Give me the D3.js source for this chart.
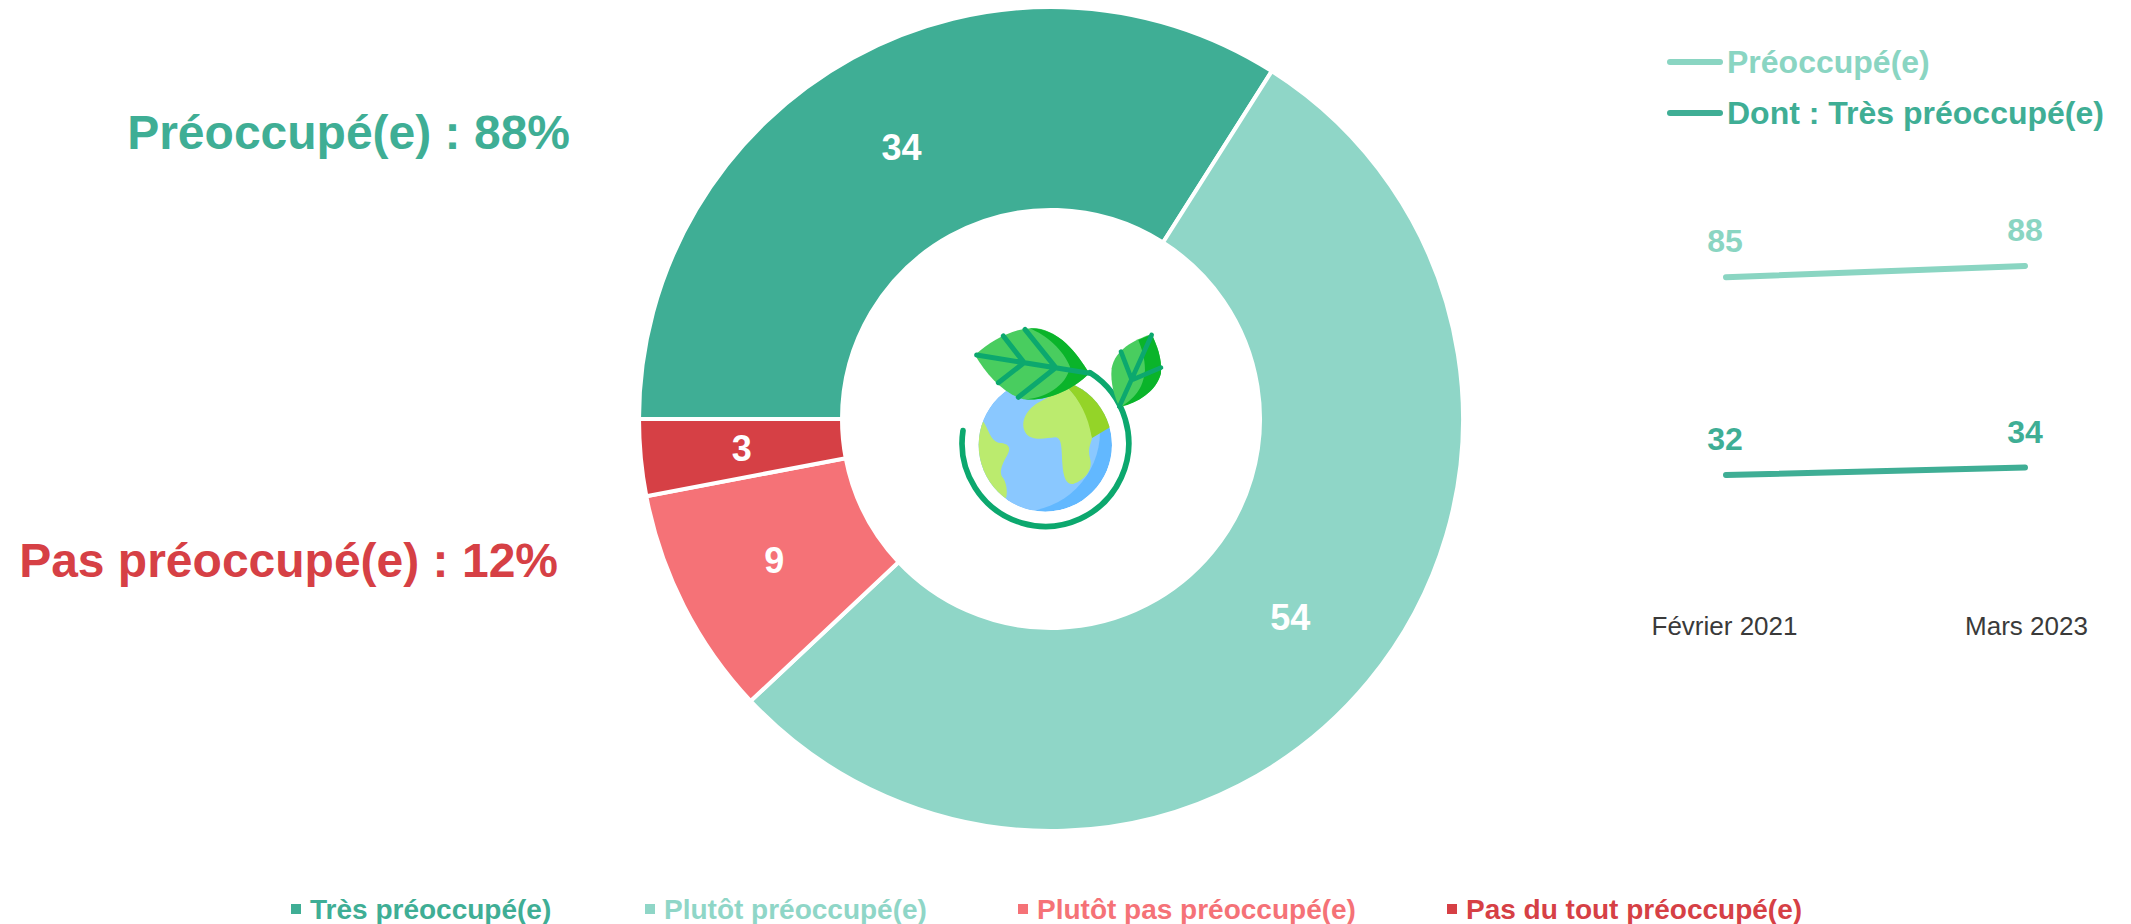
<!DOCTYPE html>
<html><head><meta charset="utf-8">
<script src="https://cdn.jsdelivr.net/npm/d3@7"></script>
<style>html,body{margin:0;padding:0;background:#fff}svg{display:block}text{font-family:"Liberation Sans",Arial,sans-serif}</style>
</head><body><div id="c"></div>
<script>
const categories=["Très préoccupé(e)","Plutôt préoccupé(e)","Plutôt pas préoccupé(e)","Pas du tout préoccupé(e)"];
const shares=[34,54,9,3];
const colors=["#3FAE95","#8FD6C7","#F57277","#D64045"];
const lineDates=["Février 2021","Mars 2023"];
const lineNames=["Préoccupé(e)","Dont : Très préoccupé(e)"];
const concerned=[85,88];
const veryConcerned=[32,34];
const lineColors=["#8AD5C2","#3FAE95"];
const summaryLabels=["Préoccupé(e) : 88%","Pas préoccupé(e) : 12%"];

const W=2131,H=924;
const svg=d3.select("#c").append("svg").attr("width",W).attr("height",H);

// Donut
const cx=1051,cy=419,R=412,r0=209;
const pie=d3.pie().sort(null).startAngle(-Math.PI/2).endAngle(1.5*Math.PI).value(d=>d)(shares);
const arc=d3.arc().innerRadius(r0).outerRadius(R);
const g=svg.append("g").attr("transform",`translate(${cx},${cy})`);
g.selectAll("path").data(pie).join("path").attr("d",arc).attr("fill",(d,i)=>colors[i]).attr("stroke","#fff").attr("stroke-width",4);
g.selectAll("text").data(pie).join("text").attr("transform",d=>`translate(${arc.centroid(d)})`)
 .attr("text-anchor","middle").attr("dy","0.36em").attr("fill","#fff").attr("font-size",36).attr("font-weight","bold").text(d=>d.data);

// Summary labels
svg.append("text").attr("x",570).attr("y",149).attr("text-anchor","end").attr("font-size",48).attr("font-weight","bold").attr("fill",colors[0]).text(summaryLabels[0]);
svg.append("text").attr("x",558).attr("y",577).attr("text-anchor","end").attr("font-size",48).attr("font-weight","bold").attr("fill",colors[3]).text(summaryLabels[1]);

// Pie legend
const legendX=[291,645,1018,1447];
const lg=svg.append("g").selectAll("g").data(categories).join("g");
lg.append("rect").attr("x",(d,i)=>legendX[i]).attr("y",904).attr("width",10).attr("height",10).attr("fill",(d,i)=>colors[i]);
lg.append("text").attr("x",(d,i)=>legendX[i]+19).attr("y",919).attr("font-size",28).attr("font-weight","bold").attr("fill",(d,i)=>colors[i]).text(d=>d);

// Line chart
const x=d3.scalePoint().domain(lineDates).range([1726,2025]);
const y=d3.scaleLinear().domain([32,88]).range([475,266]);
const line=d3.line().x(d=>x(d.k)).y(d=>y(d.v));
[concerned,veryConcerned].forEach((s,i)=>{
  const pts=s.map((v,j)=>({k:lineDates[j],v}));
  svg.append("path").attr("d",line(pts)).attr("fill","none").attr("stroke",lineColors[i]).attr("stroke-width",6).attr("stroke-linecap","round");
  svg.selectAll(null).data(pts).join("text").attr("x",d=>x(d.k)+(d.k===lineDates[0]?-1:0)).attr("y",d=>y(d.v)-25)
    .attr("text-anchor","middle").attr("font-size",32).attr("font-weight","bold").attr("fill",lineColors[i]).text(d=>d.v);
});
const ax=svg.append("g").attr("transform","translate(0,610)").call(d3.axisBottom(x).tickSize(0));
ax.select(".domain").remove();
ax.selectAll("text").attr("font-size",26).attr("font-family",'"Liberation Sans",Arial,sans-serif').attr("fill","#3a3a3a").attr("dy",0).attr("y",25).attr("dx",(d,i)=>i?1:-2);

// Line legend
const ll=svg.append("g").selectAll("g").data(lineNames).join("g");
ll.append("line").attr("x1",1670).attr("x2",1720).attr("y1",(d,i)=>62+i*51).attr("y2",(d,i)=>62+i*51).attr("stroke",(d,i)=>lineColors[i]).attr("stroke-width",6).attr("stroke-linecap","round");
ll.append("text").attr("x",1727).attr("y",(d,i)=>73+i*51).attr("font-size",32).attr("font-weight","bold").attr("fill",(d,i)=>lineColors[i]).text(d=>d);

// Earth-and-leaves icon (drawn in zoom-crop units: 3 units per pixel)
const ic=svg.append("g").attr("transform","translate(930,300) scale(0.3333)");
ic.append("defs").append("clipPath").attr("id","gc").append("circle").attr("cx",346).attr("cy",435).attr("r",200);
const gl=ic.append("g").attr("clip-path","url(#gc)");
gl.append("circle").attr("cx",346).attr("cy",435).attr("r",200).attr("fill","#62B8FF");
gl.append("circle").attr("cx",270).attr("cy",395).attr("r",240).attr("fill","#8AC8FF");
gl.append("path").attr("d","M400 250 L560 250 L560 370 L485 415 C470 350 450 300 400 250Z").attr("fill","#94D428");
gl.append("path").attr("d","M330 305 C290 325 270 365 285 395 C300 425 345 415 375 412 C395 412 395 440 397 490 C400 535 410 555 430 552 C465 540 490 510 480 475 C470 440 490 420 485 410 C475 350 450 300 410 260Z").attr("fill","#BBEB6E");
gl.append("path").attr("d","M160 365 C175 385 180 420 205 428 C235 430 245 440 232 465 C215 495 205 520 220 535 C232 555 232 580 228 595 L130 560 L130 380Z").attr("fill","#BBEB6E");
ic.append("path").attr("d","M99 392 A250 250 0 1 0 480 218").attr("fill","none").attr("stroke","#0CA86E").attr("stroke-width",17).attr("stroke-linecap","round");
// big leaf
ic.append("path").attr("d","M135 165 C190 115 260 80 320 85 C390 95 440 160 478 220 C430 270 350 305 280 298 C220 280 170 225 135 165Z").attr("fill","#49CD5F");
ic.append("path").attr("d","M298 85 C390 85 440 160 478 220 C430 270 350 305 285 298 C340 295 410 260 420 200 C400 150 350 105 298 85Z").attr("fill","#0AB42A");
ic.append("path").attr("d","M140 165 L478 220 M220 108 L280 185 M285 88 L375 200 M205 248 L280 190 M265 292 L375 205").attr("fill","none").attr("stroke","#0CA86E").attr("stroke-width",15).attr("stroke-linecap","round");
// small leaf
ic.append("path").attr("d","M665 103 C610 120 555 150 545 205 C540 250 555 295 568 320 C620 310 680 275 693 220 C697 175 680 135 665 103Z").attr("fill","#49CD5F");
ic.append("path").attr("d","M625 120 L665 103 C680 135 697 175 693 220 C680 275 620 310 575 320 C610 295 640 270 645 210 C645 175 635 145 625 120Z").attr("fill","#0AB42A");
ic.append("path").attr("d","M665 105 L568 320 M573 155 L605 238 M693 203 L610 238").attr("fill","none").attr("stroke","#0CA86E").attr("stroke-width",14).attr("stroke-linecap","round");
</script></body></html>
